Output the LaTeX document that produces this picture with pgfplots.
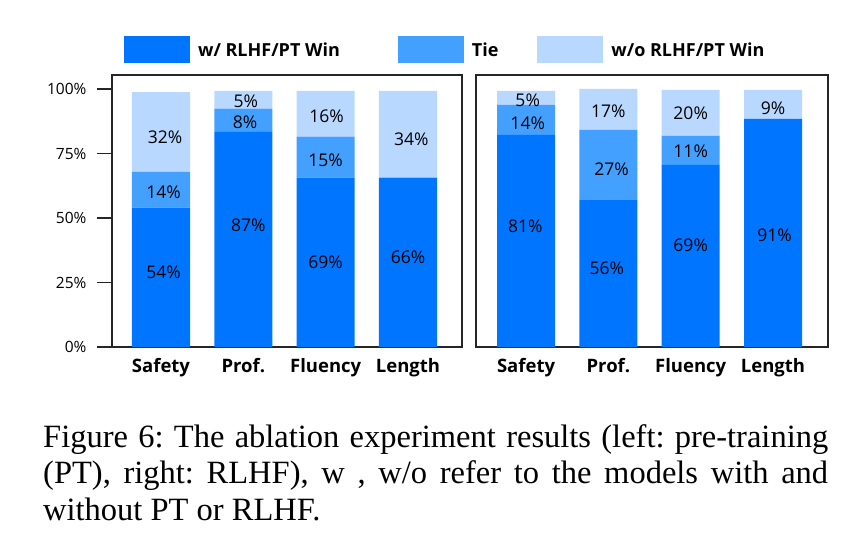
\documentclass[border=0pt]{standalone}
\usepackage{pgfplots}
\pgfplotsset{compat=1.18}
\usepackage{fontspec}
\setmainfont{Open Sans}
\newfontfamily\capfont{Liberation Serif}
\definecolor{cwin}{RGB}{0,117,255}
\definecolor{ctie}{RGB}{68,160,255}
\definecolor{cwo}{RGB}{184,216,255}
\tikzset{val/.style={font=\fontsize{17.5}{19}\selectfont}}

\pgfplotsset{
  panel/.style={
    scale only axis, anchor=south west,
    height=272pt,
    ymin=0, ymax=105.5,
    ybar stacked, bar width=0.705,
    xtick={0,1,2,3},
    xticklabels={Safety,Prof.,Fluency,Length},
    xticklabel style={font=\bfseries\fontsize{18.5}{20}\selectfont, anchor=base, yshift=-26pt},
    major x tick style={draw=none},
    axis line style={line width=1.6pt, black!85},
    /pgf/number format/assume math mode=true,
  },
}

\begin{document}
\begin{tikzpicture}
\useasboundingbox (0,0) rectangle (867pt,546pt);

% left: pre-training
\begin{axis}[panel, at={(112pt,199pt)}, width=350pt,
  xmin=-0.595, xmax=3.656,
  xticklabel style={yshift=15pt},
  ytick={0,25,50,75,100},
  yticklabel={\pgfmathprintnumber{\tick}\%},
  yticklabel style={font=\fontsize{15.5}{17}\selectfont, xshift=-7pt},
  ytick pos=left, tick align=outside,
  major y tick style={line width=1.6pt, black!85},
  major tick length=15pt,
  legend columns=3,
  legend image code/.code={\fill[#1] (0pt,-13.5pt) rectangle (66pt,13.5pt);},
  legend style={at={(axis description cs:0.034,1.092)}, anchor=west, draw=none,
    font=\bfseries\fontsize{18}{20}\selectfont, inner sep=0pt,
    nodes={inner sep=0pt},
    /tikz/every odd column/.append style={column sep=8pt},
    /tikz/every even column/.append style={column sep=58pt}},
  after end axis/.code={
    \node[val] at (axis cs:0.03,28.8) {54\%};
    \node[val] at (axis cs:0.03,59.9) {14\%};
    \node[val] at (axis cs:0.05,81.2) {32\%};
    \node[val] at (axis cs:1.06,47.3) {87\%};
    \node[val] at (axis cs:1.02,87.2) {8\%};
    \node[val] at (axis cs:1.03,95.2) {5\%};
    \node[val] at (axis cs:2.0,32.7) {69\%};
    \node[val] at (axis cs:2.0,72.6) {15\%};
    \node[val] at (axis cs:2.01,89.6) {16\%};
    \node[val] at (axis cs:3.0,34.8) {66\%};
    \node[val] at (axis cs:3.04,80.7) {34\%};
  },
]
\addplot[draw=none, fill=cwin] coordinates {(0,54.1) (1,83.4) (2,65.7) (3,65.7)};
\addlegendentry{w/ RLHF/PT Win}
\addplot[draw=none, fill=ctie] coordinates {(0,13.8) (1,9.1) (2,15.9) (3,0)};
\addlegendentry{Tie\hspace*{-19pt}}
\addplot[draw=none, fill=cwo] coordinates {(0,31.0) (1,6.8) (2,17.7) (3,33.6)};
\addlegendentry{w/o RLHF/PT Win}
\end{axis}

% right: RLHF
\begin{axis}[panel, at={(476pt,199pt)}, width=352pt,
  xmin=-0.608, xmax=3.668,
  ytick=\empty,
  after end axis/.code={
    \node[val] at (axis cs:-0.01,46.7) {81\%};
    \node[val] at (axis cs:0.02,86.8) {14\%};
    \node[val] at (axis cs:0.02,95.8) {5\%};
    \node[val] at (axis cs:0.98,30.5) {56\%};
    \node[val] at (axis cs:1.04,69.0) {27\%};
    \node[val] at (axis cs:1.0,91.3) {17\%};
    \node[val] at (axis cs:2.0,39.3) {69\%};
    \node[val] at (axis cs:2.0,76.1) {11\%};
    \node[val] at (axis cs:2.0,90.7) {20\%};
    \node[val] at (axis cs:3.02,43.2) {91\%};
    \node[val] at (axis cs:3.0,92.6) {9\%};
  },
]
\addplot[draw=none, fill=cwin] coordinates {(0,82.3) (1,57.0) (2,70.6) (3,88.5)};
\addplot[draw=none, fill=ctie] coordinates {(0,11.6) (1,27.2) (2,11.3) (3,0)};
\addplot[draw=none, fill=cwo] coordinates {(0,5.4) (1,15.9) (2,17.8) (3,11.2)};
\end{axis}

\node[anchor=base west, inner sep=0pt, text width=785pt, align=justify,
  font=\capfont\fontsize{32.5}{36.5}\selectfont] at (43pt,98.7pt)
  {\frenchspacing\hyphenpenalty=10000 Figure 6: The ablation experiment results (left: pre-training\linebreak
   (PT), right: RLHF), w , w/o refer to the models with and\linebreak
   without PT or RLHF.};
\end{tikzpicture}
\end{document}
